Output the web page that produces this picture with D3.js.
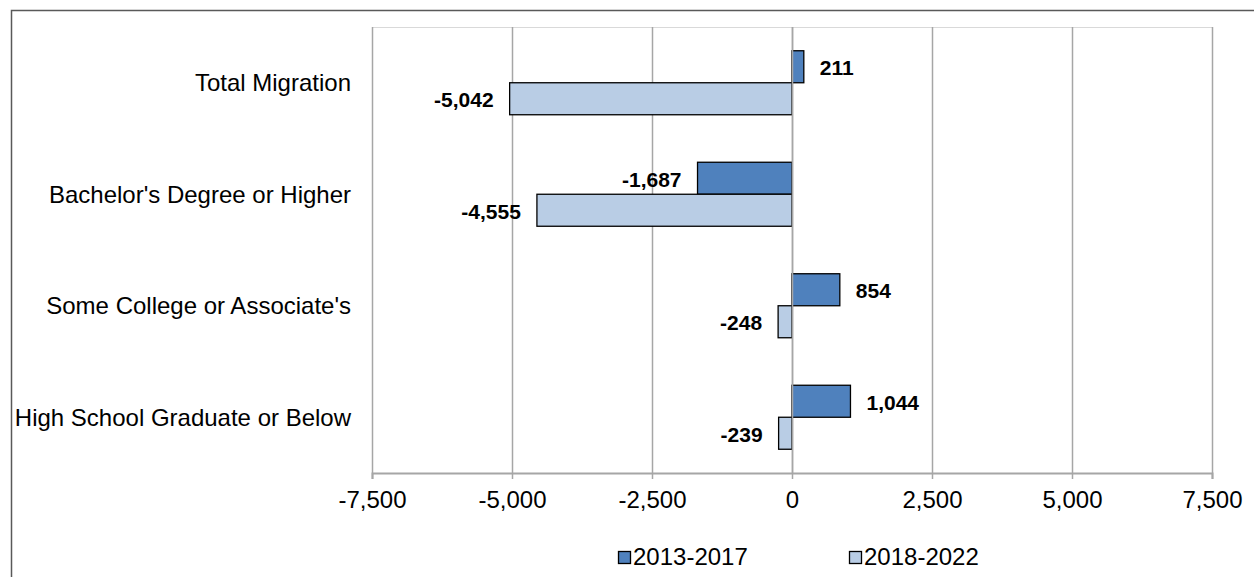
<!DOCTYPE html>
<html><head><meta charset="utf-8">
<script src="https://cdn.jsdelivr.net/npm/d3@7"></script>
<style>body{margin:0;background:#fff}svg{display:block;font-family:"Liberation Sans",Arial,sans-serif}</style>
</head><body><svg id="c" width="1254" height="577"></svg>
<script>
const categories = ["Total Migration","Bachelor's Degree or Higher","Some College or Associate's","High School Graduate or Below"];
const seriesNames = ["2013-2017","2018-2022"];
const values2013 = [211,-1687,854,1044];
const values2018 = [-5042,-4555,-248,-239];
const tickValues = [-7500,-5000,-2500,0,2500,5000,7500];
const colors = ["#4F81BD","#B9CDE5"];

const fmt = d3.formatLocale({decimal:".",thousands:",",grouping:[3],currency:["$",""],minus:"-"}).format(",");
const svg = d3.select("#c");
const pL=372,pR=1212,pT=27,pB=473;
const x = d3.scaleLinear().domain([-7500,7500]).range([pL,pR]);
const y = d3.scaleBand().domain(categories).range([pT,pB]).paddingInner(0.426).paddingOuter(0.213);
const sub = d3.scaleBand().domain(seriesNames).range([0,y.bandwidth()]);

// outer border
svg.append("path").attr("d",`M11.5,577 V10.5 H1254`).attr("fill","none").attr("stroke","#595959").attr("stroke-width",1.5);

// plot area frame
svg.append("line").attr("x1",pL).attr("x2",pR).attr("y1",pT+0.5).attr("y2",pT+0.5).attr("stroke","#d9d9d9");
// gridlines
svg.append("g").selectAll("line").data(tickValues).join("line")
  .attr("x1",d=>x(d)+0.5).attr("x2",d=>x(d)+0.5).attr("y1",pT).attr("y2",pB)
  .attr("stroke","#a6a6a6").attr("stroke-width",1.5);

// x axis
const ax = svg.append("g").attr("transform",`translate(0,${pB})`)
  .call(d3.axisBottom(x).tickValues(tickValues).tickSize(6).tickPadding(0).tickFormat(fmt));
ax.select(".domain").attr("stroke","#a6a6a6").attr("stroke-width",2);
ax.selectAll(".tick line").attr("stroke","#a6a6a6").attr("stroke-width",1.5);
ax.selectAll(".tick text").attr("font-size",24).attr("fill","#000")
  .attr("font-family","Liberation Sans, Arial, sans-serif").attr("y",35).attr("dy",0);

// bars
const data = [];
categories.forEach((c,i)=>{
  data.push({c,s:seriesNames[0],v:values2013[i],col:colors[0]});
  data.push({c,s:seriesNames[1],v:values2018[i],col:colors[1]});
});
const g = svg.append("g");
g.selectAll("rect").data(data).join("rect")
  .attr("x",d=>x(Math.min(0,d.v))).attr("width",d=>Math.abs(x(d.v)-x(0)))
  .attr("y",d=>y(d.c)+sub(d.s)).attr("height",sub.bandwidth())
  .attr("fill",d=>d.col).attr("stroke","#000").attr("stroke-width",1.3);

// zero line over bars
svg.append("line").attr("x1",x(0)+0.5).attr("x2",x(0)+0.5).attr("y1",pT).attr("y2",pB).attr("stroke","#a6a6a6").attr("stroke-width",1.5);

// data labels
g.selectAll("text.lbl").data(data).join("text").attr("class","lbl")
  .attr("x",d=>d.v>=0?x(d.v)+16:x(d.v)-16)
  .attr("y",d=>y(d.c)+sub(d.s)+sub.bandwidth()/2)
  .attr("dy","0.4em")
  .attr("text-anchor",d=>d.v>=0?"start":"end")
  .attr("font-size",21).attr("font-weight","bold").text(d=>fmt(d.v));

// category labels
svg.append("g").selectAll("text").data(categories).join("text")
  .attr("x",351).attr("y",d=>y(d)+y.bandwidth()/2).attr("dy","0.36em")
  .attr("text-anchor","end").attr("font-size",24).text(d=>d);

// legend
const leg = svg.append("g");
const legX=[618,849];
seriesNames.forEach((s,i)=>{
  leg.append("rect").attr("x",legX[i]+0.5).attr("y",551.5).attr("width",12).attr("height",12)
    .attr("fill",colors[i]).attr("stroke","#000").attr("stroke-width",1.3);
  leg.append("text").attr("x",legX[i]+15).attr("y",565).attr("font-size",24).text(s);
});
</script></body></html>
